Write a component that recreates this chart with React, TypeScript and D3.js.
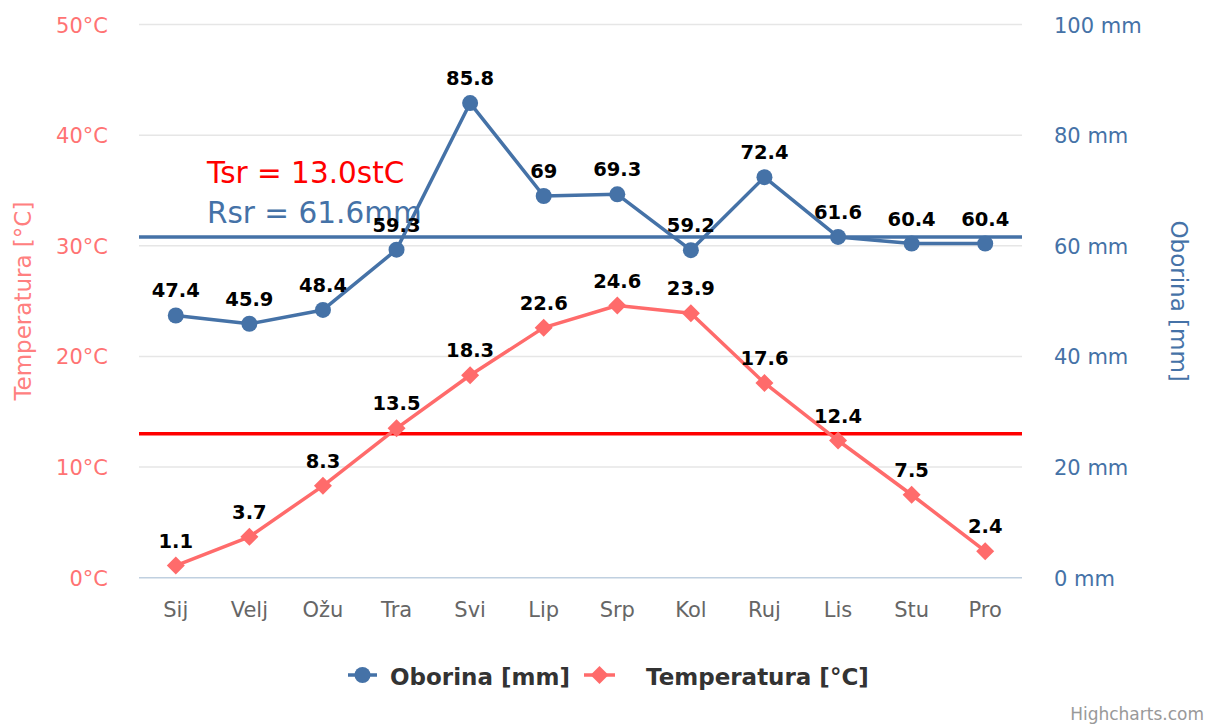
import { scaleLinear, scalePoint, line } from "d3"

const months = ["Sij", "Velj", "Ožu", "Tra", "Svi", "Lip", "Srp", "Kol", "Ruj", "Lis", "Stu", "Pro"]
const oborina = [47.4, 45.9, 48.4, 59.3, 85.8, 69, 69.3, 59.2, 72.4, 61.6, 60.4, 60.4]
const temperatura = [1.1, 3.7, 8.3, 13.5, 18.3, 22.6, 24.6, 23.9, 17.6, 12.4, 7.5, 2.4]
const tempTicks = [0, 10, 20, 30, 40, 50]
const rainTicks = [0, 20, 40, 60, 80, 100]
const tsr = 13.0
const rsr = 61.6

const W = 1206
const H = 724
const font = "'DejaVu Sans', Verdana, sans-serif"
const blue = "#4572A7"
const red = "#FF6B6B"

// square diamond marker, half-diagonal r
const diamondPath = (r: number) => `M0,${-r}L${r},0L0,${r}L${-r},0Z`

export default function App() {
  const left = 139, right = 1022, top = 24.5, bottom = 577.7
  const x = scalePoint<string>().domain(months).range([left, right]).padding(0.5)
  const yT = scaleLinear().domain([0, 50]).range([bottom, top])
  const yR = scaleLinear().domain([0, 100]).range([bottom, top])

  const rainLine = line<number>().x((_, i) => x(months[i])!).y(d => yR(d))
  const tempLine = line<number>().x((_, i) => x(months[i])!).y(d => yT(d))
  const diamond = diamondPath(9)
  const midY = (top + bottom) / 2

  return (
    <svg width={W} height={H} style={{ position: "absolute", left: 0, top: 0, fontFamily: font }}>
      <rect width={W} height={H} fill="#fff" />
      {/* grid */}
      {tempTicks.slice(1).map(t => (
        <line key={t} x1={left} x2={right} y1={yT(t)} y2={yT(t)} stroke="#e6e6e6" strokeWidth={1.5} />
      ))}
      <line x1={left} x2={right} y1={bottom} y2={bottom} stroke="#C0D0E0" strokeWidth={1.5} />

      {/* left axis */}
      {tempTicks.map(t => (
        <text key={t} x={108} y={yT(t) + 8} textAnchor="end" fontSize={21} fill="#FF7373">{`${t}°C`}</text>
      ))}
      <text transform={`translate(31,${midY}) rotate(-90)`} textAnchor="middle" fontSize={23} fill="#FF8080">Temperatura [°C]</text>

      {/* right axis */}
      {rainTicks.map(t => (
        <text key={t} x={1054} y={yR(t) + 8} fontSize={21} fill={blue}>{`${t} mm`}</text>
      ))}
      <text transform={`translate(1171,${midY}) rotate(90)`} textAnchor="middle" fontSize={23} fill={blue}>Oborina [mm]</text>

      {/* x labels */}
      {months.map(m => (
        <text key={m} x={x(m)} y={617} textAnchor="middle" fontSize={21} fill="#666">{m}</text>
      ))}

      {/* plot lines */}
      <line x1={left} x2={right} y1={yT(tsr)} y2={yT(tsr)} stroke="#FF0000" strokeWidth={3.5} />
      <line x1={left} x2={right} y1={yR(rsr)} y2={yR(rsr)} stroke={blue} strokeWidth={3.5} />
      <text x={207} y={183} fontSize={29.5} fill="#FF0000">{`Tsr = ${tsr.toFixed(1)}stC`}</text>
      <text x={207} y={223} fontSize={29.5} fill={blue}>{`Rsr = ${rsr}mm`}</text>

      {/* series */}
      <path d={rainLine(oborina)!} fill="none" stroke={blue} strokeWidth={3.5} strokeLinejoin="round" />
      {oborina.map((v, i) => (
        <circle key={i} cx={x(months[i])} cy={yR(v)} r={8} fill={blue} />
      ))}
      <path d={tempLine(temperatura)!} fill="none" stroke={red} strokeWidth={3.5} strokeLinejoin="round" />
      {temperatura.map((v, i) => (
        <path key={i} d={diamond} transform={`translate(${x(months[i])},${yT(v)})`} fill={red} />
      ))}

      {/* data labels */}
      {oborina.map((v, i) => (
        <text key={i} x={x(months[i])} y={yR(v) - 18} textAnchor="middle" fontSize={19.5} fontWeight="bold" fill="#000">{`${v}`}</text>
      ))}
      {temperatura.map((v, i) => (
        <text key={i} x={x(months[i])} y={yT(v) - 18} textAnchor="middle" fontSize={19.5} fontWeight="bold" fill="#000">{`${v}`}</text>
      ))}

      {/* legend */}
      <g>
        <line x1={348} x2={377} y1={675} y2={675} stroke={blue} strokeWidth={3.5} />
        <circle cx={362.5} cy={675} r={8} fill={blue} />
        <text x={390} y={685} fontSize={23} fontWeight="bold" fill="#333">Oborina [mm]</text>
        <line x1={584} x2={615} y1={675} y2={675} stroke={red} strokeWidth={3.5} />
        <path d={diamond} transform="translate(599.5,675)" fill={red} />
        <text x={646} y={685} fontSize={23} fontWeight="bold" fill="#333">Temperatura [°C]</text>
      </g>

      <text x={1204} y={720} textAnchor="end" fontSize={17} fill="#999">Highcharts.com</text>
    </svg>
  )
}
